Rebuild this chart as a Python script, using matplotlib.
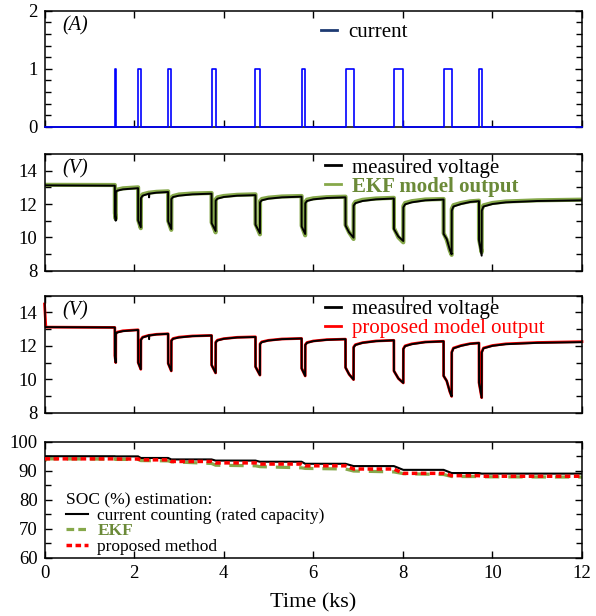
import matplotlib
matplotlib.use("Agg")
import matplotlib.pyplot as plt
from matplotlib.lines import Line2D
from matplotlib.ticker import MultipleLocator

plt.rcParams["font.family"] = ["Liberation Serif", "DejaVu Serif"]

# ---- discharge current pulses (ks) ----
pulse_start = [1.57, 2.09, 2.76, 3.73, 4.71, 5.74, 6.72, 7.80, 8.91, 9.70]
pulse_end = [1.59, 2.15, 2.83, 3.82, 4.81, 5.82, 6.90, 8.01, 9.09, 9.76]
pulse_amp = 1.0

# ---- terminal voltage breakpoints (ks, V) ----
v_time = [0.000, 0.030, 1.570, 1.571, 1.590, 1.592, 1.620, 1.750, 2.090,
          2.091, 2.150, 2.152, 2.190, 2.330, 2.335, 2.340, 2.500, 2.760,
          2.761, 2.830, 2.832, 2.870, 3.000, 3.300, 3.730,
          3.731, 3.820, 3.822, 3.860, 4.000, 4.300, 4.710,
          4.711, 4.810, 4.812, 4.850, 5.000, 5.300, 5.740,
          5.741, 5.820, 5.822, 5.860, 6.000, 6.300, 6.720,
          6.721, 6.800, 6.900, 6.902, 6.940, 7.100, 7.400, 7.800,
          7.801, 7.900, 8.010, 8.012, 8.050, 8.200, 8.500, 8.910,
          8.911, 8.980, 9.050, 9.090, 9.092, 9.130, 9.300, 9.500, 9.700,
          9.701, 9.760, 9.762, 9.800, 10.000, 10.300, 11.000, 12.000]
v_measured = [13.12, 13.12, 13.10, 11.40, 11.00, 12.70, 12.80, 12.88, 12.95,
              11.00, 10.60, 12.35, 12.50, 12.62, 12.40, 12.62, 12.68, 12.72,
              10.95, 10.50, 12.30, 12.42, 12.50, 12.58, 12.62,
              10.85, 10.38, 12.20, 12.32, 12.42, 12.50, 12.53,
              10.75, 10.25, 12.10, 12.22, 12.32, 12.40, 12.44,
              10.65, 10.20, 12.05, 12.18, 12.28, 12.36, 12.40,
              10.70, 10.30, 9.98, 11.90, 12.05, 12.18, 12.28, 12.33,
              10.50, 10.05, 9.78, 11.80, 11.98, 12.10, 12.22, 12.27,
              10.20, 9.90, 9.25, 8.98, 11.60, 11.85, 12.00, 12.12, 12.17,
              9.80, 8.90, 11.60, 11.85, 12.00, 12.10, 12.18, 12.22]
v_ekf = [13.15, 13.15, 13.14, 11.45, 11.10, 12.75, 12.86, 12.94, 13.00,
         11.05, 10.55, 12.40, 12.58, 12.68, 12.68, 12.68, 12.73, 12.76,
         11.00, 10.45, 12.38, 12.48, 12.57, 12.63, 12.66,
         10.90, 10.30, 12.28, 12.40, 12.48, 12.55, 12.58,
         10.80, 10.18, 12.18, 12.30, 12.38, 12.45, 12.48,
         10.70, 10.12, 12.12, 12.26, 12.34, 12.41, 12.44,
         10.75, 10.30, 9.90, 11.98, 12.13, 12.25, 12.33, 12.37,
         10.55, 10.00, 9.70, 11.88, 12.06, 12.17, 12.27, 12.30,
         10.25, 9.85, 9.20, 8.95, 11.70, 11.93, 12.06, 12.16, 12.20,
         9.90, 9.10, 11.68, 11.92, 12.06, 12.15, 12.22, 12.26]
v_proposed = [14.50, 13.12, 13.10, 11.40, 11.00, 12.72, 12.82, 12.90, 12.96,
              11.00, 10.60, 12.38, 12.52, 12.63, 12.63, 12.63, 12.69, 12.72,
              10.95, 10.50, 12.32, 12.44, 12.52, 12.59, 12.62,
              10.85, 10.38, 12.22, 12.34, 12.43, 12.51, 12.54,
              10.75, 10.25, 12.12, 12.24, 12.33, 12.41, 12.44,
              10.65, 10.20, 12.07, 12.20, 12.29, 12.37, 12.40,
              10.70, 10.30, 9.98, 11.93, 12.07, 12.19, 12.29, 12.33,
              10.50, 10.05, 9.78, 11.83, 12.00, 12.12, 12.23, 12.27,
              10.20, 9.90, 9.25, 8.98, 11.63, 11.87, 12.02, 12.13, 12.17,
              9.80, 8.90, 11.63, 11.87, 12.02, 12.12, 12.20, 12.25]

# ---- state of charge estimates (ks, %) ----
soc_time = [0.0, 1.57, 1.59, 2.09, 2.15, 2.76, 2.83, 3.73, 3.82, 4.71, 4.81,
            5.74, 5.82, 6.72, 6.90, 7.80, 8.01, 8.91, 9.09, 9.70, 9.76, 12.0]
soc_counting = [95.0, 95.0, 94.95, 94.95, 94.4, 94.4, 93.9, 93.9, 93.5, 93.5,
                93.1, 93.1, 92.4, 92.4, 91.6, 91.6, 90.3, 90.3, 89.2, 89.2,
                89.0, 89.0]
soc_proposed = [94.1, 94.1, 94.05, 94.05, 93.75, 93.75, 93.2, 93.2, 92.7,
                92.7, 92.3, 92.3, 91.7, 91.7, 90.6, 90.6, 89.1, 89.1, 88.3,
                88.3, 88.1, 88.1]
ekf_time = [0.0, 0.05, 1.57, 1.59, 2.09, 2.15, 2.76, 2.83, 3.73, 3.82, 4.71,
            4.81, 5.74, 5.82, 6.72, 6.90, 7.80, 8.01, 8.91, 9.09, 9.70, 9.76,
            12.0]
soc_ekf = [93.3, 94.1, 94.0, 93.9, 93.9, 93.5, 93.4, 93.1, 92.5, 91.9, 91.7,
           91.4, 91.0, 90.8, 90.6, 89.9, 89.6, 89.0, 88.7, 88.0, 88.0, 87.9,
           87.8]

BLUE = "#0000ff"
NAVY = "#1d3a72"
GREEN_LINE = "#86a84a"
GREEN_TEXT = "#6b8a38"
RED = "#ff0000"

fig = plt.figure(figsize=(5.96, 6.16), dpi=100)
left, width = 0.0747, 0.9018
ax1 = fig.add_axes([left, 0.7943, width, 0.1883])
ax2 = fig.add_axes([left, 0.5606, width, 0.1894])
ax3 = fig.add_axes([left, 0.3300, width, 0.1900])
ax4 = fig.add_axes([left, 0.0946, width, 0.1883])


def style(ax, ymin, ymax, ymajor, yminor, labels_x=False):
    ax.set_xlim(0, 12)
    ax.set_ylim(ymin, ymax)
    ax.xaxis.set_major_locator(MultipleLocator(2))
    ax.yaxis.set_major_locator(MultipleLocator(ymajor))
    ax.yaxis.set_minor_locator(MultipleLocator(yminor))
    ax.tick_params(axis="both", which="both", direction="in",
                   top=True, right=True, labelsize=13.5, width=1.0,
                   colors="black", pad=5)
    ax.tick_params(axis="both", which="major", length=5)
    ax.tick_params(axis="both", which="minor", length=4)
    ax.tick_params(axis="x", which="minor", length=0)
    if not labels_x:
        ax.tick_params(axis="x", labelbottom=False)
    for s in ax.spines.values():
        s.set_linewidth(1.1)


# ---- (A) current ----
cur_t = [0.0]
cur_i = [0.0]
for ts, te in zip(pulse_start, pulse_end):
    cur_t += [ts, ts, te, te]
    cur_i += [0.0, pulse_amp, pulse_amp, 0.0]
cur_t.append(12.0)
cur_i.append(0.0)
ax1.plot(cur_t, cur_i, color=BLUE, lw=1.2, clip_on=False, zorder=5)
style(ax1, 0, 2, 1, 0.2)
ax1.text(0.033, 0.87, "(A)", transform=ax1.transAxes, fontsize=14.5,
         style="italic", va="center", ha="left")
ax1.legend(handles=[Line2D([], [], color=NAVY, lw=2)], labels=["current"],
           loc="center left", bbox_to_anchor=(0.515, 0.815), frameon=False,
           fontsize=15, handlelength=0.75, handletextpad=0.55,
           borderpad=0, borderaxespad=0)

# ---- (V) measured vs EKF ----
ax2.plot(v_time, v_ekf, color=GREEN_LINE, lw=3.0, zorder=2)
ax2.plot(v_time, v_measured, color="black", lw=1.4, zorder=3)
style(ax2, 8, 15, 2, 1)
ax2.text(0.033, 0.87, "(V)", transform=ax2.transAxes, fontsize=14.5,
         style="italic", va="center", ha="left")
leg2 = ax2.legend(handles=[Line2D([], [], color="black", lw=2),
                           Line2D([], [], color=GREEN_LINE, lw=2)],
                  labels=["measured voltage", "EKF model output"],
                  loc="upper left", bbox_to_anchor=(0.522, 0.965),
                  frameon=False, fontsize=15, handlelength=0.75,
                  handletextpad=0.55, labelspacing=-0.05, borderpad=0,
                  borderaxespad=0)
leg2.get_texts()[1].set_color(GREEN_TEXT)
leg2.get_texts()[1].set_fontweight("bold")

# ---- (V) measured vs proposed ----
ax3.plot(v_time, v_proposed, color=RED, lw=2.0, zorder=2, clip_on=False)
ax3.plot(v_time, v_measured, color="black", lw=1.4, zorder=3)
style(ax3, 8, 15, 2, 1)
ax3.text(0.033, 0.87, "(V)", transform=ax3.transAxes, fontsize=14.5,
         style="italic", va="center", ha="left")
leg3 = ax3.legend(handles=[Line2D([], [], color="black", lw=2),
                           Line2D([], [], color=RED, lw=2)],
                  labels=["measured voltage", "proposed model output"],
                  loc="upper left", bbox_to_anchor=(0.522, 0.965),
                  frameon=False, fontsize=15, handlelength=0.75,
                  handletextpad=0.55, labelspacing=-0.05, borderpad=0,
                  borderaxespad=0)
leg3.get_texts()[1].set_color(RED)

# ---- SOC estimation ----
ax4.plot(ekf_time, soc_ekf, color=GREEN_LINE, lw=2.3,
         dashes=(4.5, 2.8), zorder=2)
ax4.plot(soc_time, soc_counting, color="black", lw=1.5, zorder=3)
ax4.plot(soc_time, soc_proposed, color=RED, lw=2.5,
         dashes=(1.6, 1.0), zorder=4)
style(ax4, 60, 100, 10, 5, labels_x=True)
ax4.set_xlabel("Time (ks)", fontsize=16, labelpad=8)
soc_handles = [Line2D([], [], color="black", lw=1.5),
               Line2D([], [], color=GREEN_LINE, lw=2.3, dashes=(2.4, 1.3)),
               Line2D([], [], color=RED, lw=2.5, dashes=(1.6, 1.0))]
leg4 = ax4.legend(handles=soc_handles,
                  labels=["current counting (rated capacity)", "EKF",
                          "proposed method"],
                  title="SOC (%) estimation:", title_fontsize=12.5,
                  loc="upper left", bbox_to_anchor=(0.04, 0.56),
                  frameon=False, fontsize=12.5, handlelength=1.25,
                  handletextpad=0.55, labelspacing=-0.05, borderpad=0,
                  borderaxespad=0, alignment="left")
leg4.get_texts()[1].set_color(GREEN_TEXT)
leg4.get_texts()[1].set_fontweight("bold")

fig.savefig("out.png", dpi=100)
